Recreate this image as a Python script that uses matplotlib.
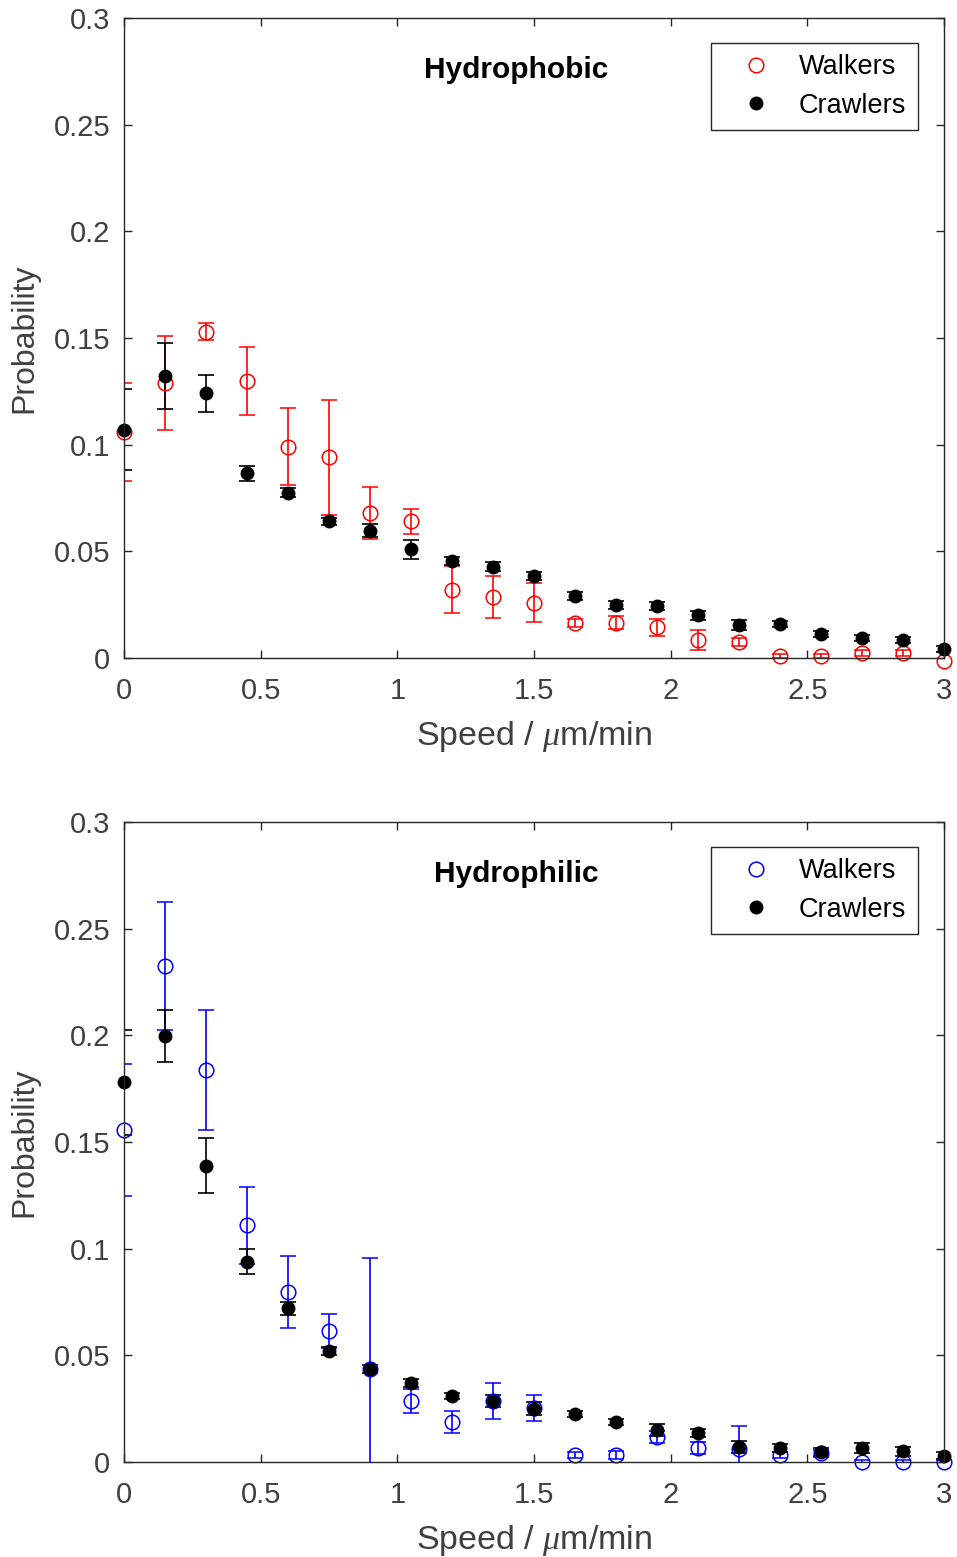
import matplotlib.pyplot as plt
from matplotlib.lines import Line2D

plt.rcParams['font.family'] = ['Liberation Sans', 'DejaVu Sans']
plt.rcParams['mathtext.fontset'] = 'custom'
plt.rcParams['mathtext.it'] = 'Liberation Serif:italic'

speed = [0, 0.15, 0.3, 0.45, 0.6, 0.75, 0.9, 1.05, 1.2, 1.35, 1.5,
         1.65, 1.8, 1.95, 2.1, 2.25, 2.4, 2.55, 2.7, 2.85, 3.0]

# Hydrophobic
phob_walk = [0.106, 0.129, 0.153, 0.130, 0.099, 0.094, 0.068, 0.064, 0.032, 0.0286, 0.026,
             0.0164, 0.0166, 0.0145, 0.0084, 0.0075, 0.001, 0.001, 0.0023, 0.0023, -0.0015]
phob_walk_err = [0.023, 0.022, 0.004, 0.016, 0.018, 0.027, 0.012, 0.006, 0.011, 0.010, 0.009,
                 0.002, 0.003, 0.004, 0.0047, 0.002, 0.001, 0.001, 0.0015, 0.0015, 0.001]
phob_crawl = [0.107, 0.132, 0.124, 0.0866, 0.0775, 0.064, 0.0596, 0.051, 0.0455, 0.0428, 0.0384,
              0.029, 0.0248, 0.0244, 0.020, 0.0155, 0.016, 0.0112, 0.0093, 0.0084, 0.0042]
phob_crawl_err = [0.019, 0.0155, 0.0085, 0.0035, 0.002, 0.0015, 0.003, 0.0045, 0.002, 0.002, 0.002,
                  0.002, 0.002, 0.002, 0.002, 0.0025, 0.0015, 0.0015, 0.0015, 0.0015, 0.0015]

# Hydrophilic
phil_walk = [0.1556, 0.2325, 0.1838, 0.111, 0.0797, 0.0614, 0.0436, 0.0286, 0.0188, 0.0286, 0.0253,
             0.0033, 0.0033, 0.0117, 0.0066, 0.006, 0.0033, 0.004, 0.0, 0.0, 0.0]
phil_walk_err = [0.031, 0.030, 0.028, 0.018, 0.017, 0.008, 0.052, 0.0056, 0.0053, 0.0085, 0.006,
                 0.0015, 0.002, 0.003, 0.003, 0.011, 0.0015, 0.0015, 0.001, 0.001, 0.001]
phil_crawl = [0.178, 0.1997, 0.139, 0.094, 0.072, 0.052, 0.0436, 0.037, 0.031, 0.0286, 0.025,
              0.0225, 0.0188, 0.015, 0.0135, 0.007, 0.0065, 0.0047, 0.0065, 0.005, 0.003]
phil_crawl_err = [0.0245, 0.012, 0.013, 0.006, 0.003, 0.002, 0.002, 0.002, 0.0015, 0.003, 0.003,
                  0.0015, 0.0015, 0.003, 0.002, 0.003, 0.002, 0.002, 0.0025, 0.002, 0.0015]

yticks = [0, 0.05, 0.1, 0.15, 0.2, 0.25, 0.3]
ytick_labels = ['0', '0.05', '0.1', '0.15', '0.2', '0.25', '0.3']
xticks = [0, 0.5, 1, 1.5, 2, 2.5, 3]
xtick_labels = ['0', '0.5', '1', '1.5', '2', '2.5', '3']

fig = plt.figure(figsize=(9.57, 15.57), dpi=100)

panels = [
    (0.5774, 'Hydrophobic', 'red', phob_walk, phob_walk_err, phob_crawl, phob_crawl_err),
    (0.0610, 'Hydrophilic', 'blue', phil_walk, phil_walk_err, phil_crawl, phil_crawl_err),
]

for bottom, title, col, walk, walk_err, crawl, crawl_err in panels:
    ax = fig.add_axes([0.1296, bottom, 0.8568, 0.4110])
    w = ax.errorbar(speed, walk, yerr=walk_err, fmt='o', color=col, mfc='none', mec=col,
                    ms=10.5, mew=1.1, elinewidth=1.2, capsize=5.8, capthick=1.2)
    c = ax.errorbar(speed, crawl, yerr=crawl_err, fmt='o', color='black', mfc='black', mec='black',
                    ms=9, elinewidth=1.2, capsize=5.8, capthick=1.2)
    # markers may sit over the axis line, error bars stay clipped
    w[0].set_clip_on(False)
    c[0].set_clip_on(False)
    ax.set_xlim(0, 3)
    ax.set_ylim(0, 0.3)
    ax.set_xticks(xticks)
    ax.set_xticklabels(xtick_labels)
    ax.set_yticks(yticks)
    ax.set_yticklabels(ytick_labels)
    ax.tick_params(direction='in', top=True, right=True, length=6, width=1,
                   colors='#262626', labelcolor='#404040', labelsize=21)
    ax.tick_params(axis='y', pad=10)
    ax.tick_params(axis='x', pad=14)
    for sp in ax.spines.values():
        sp.set_color('#262626')
        sp.set_linewidth(1)
    ax.set_xlabel('Speed / $\\mu$m/min', fontsize=24.5, color='#404040', labelpad=10)
    ax.set_ylabel('Probability', fontsize=23, color='#404040', labelpad=10)
    ax.text(0.478, 0.919, title, transform=ax.transAxes, ha='center', va='center',
            fontsize=21.5, fontweight='bold')
    handles = [
        Line2D([], [], ls='none', marker='o', mfc='none', mec=col, ms=10.5, mew=1.1),
        Line2D([], [], ls='none', marker='o', mfc='black', mec='black', ms=9),
    ]
    leg = ax.legend(handles, ['Walkers', 'Crawlers'], loc='upper right',
                    bbox_to_anchor=(0.968, 0.961), fontsize=19.5, fancybox=False,
                    framealpha=1, edgecolor='#262626', borderpad=0.42,
                    handletextpad=0.34, labelspacing=0.45, handlelength=2.5,
                    borderaxespad=0)
    leg.get_frame().set_linewidth(1)

fig.savefig('out.png', dpi=100)
